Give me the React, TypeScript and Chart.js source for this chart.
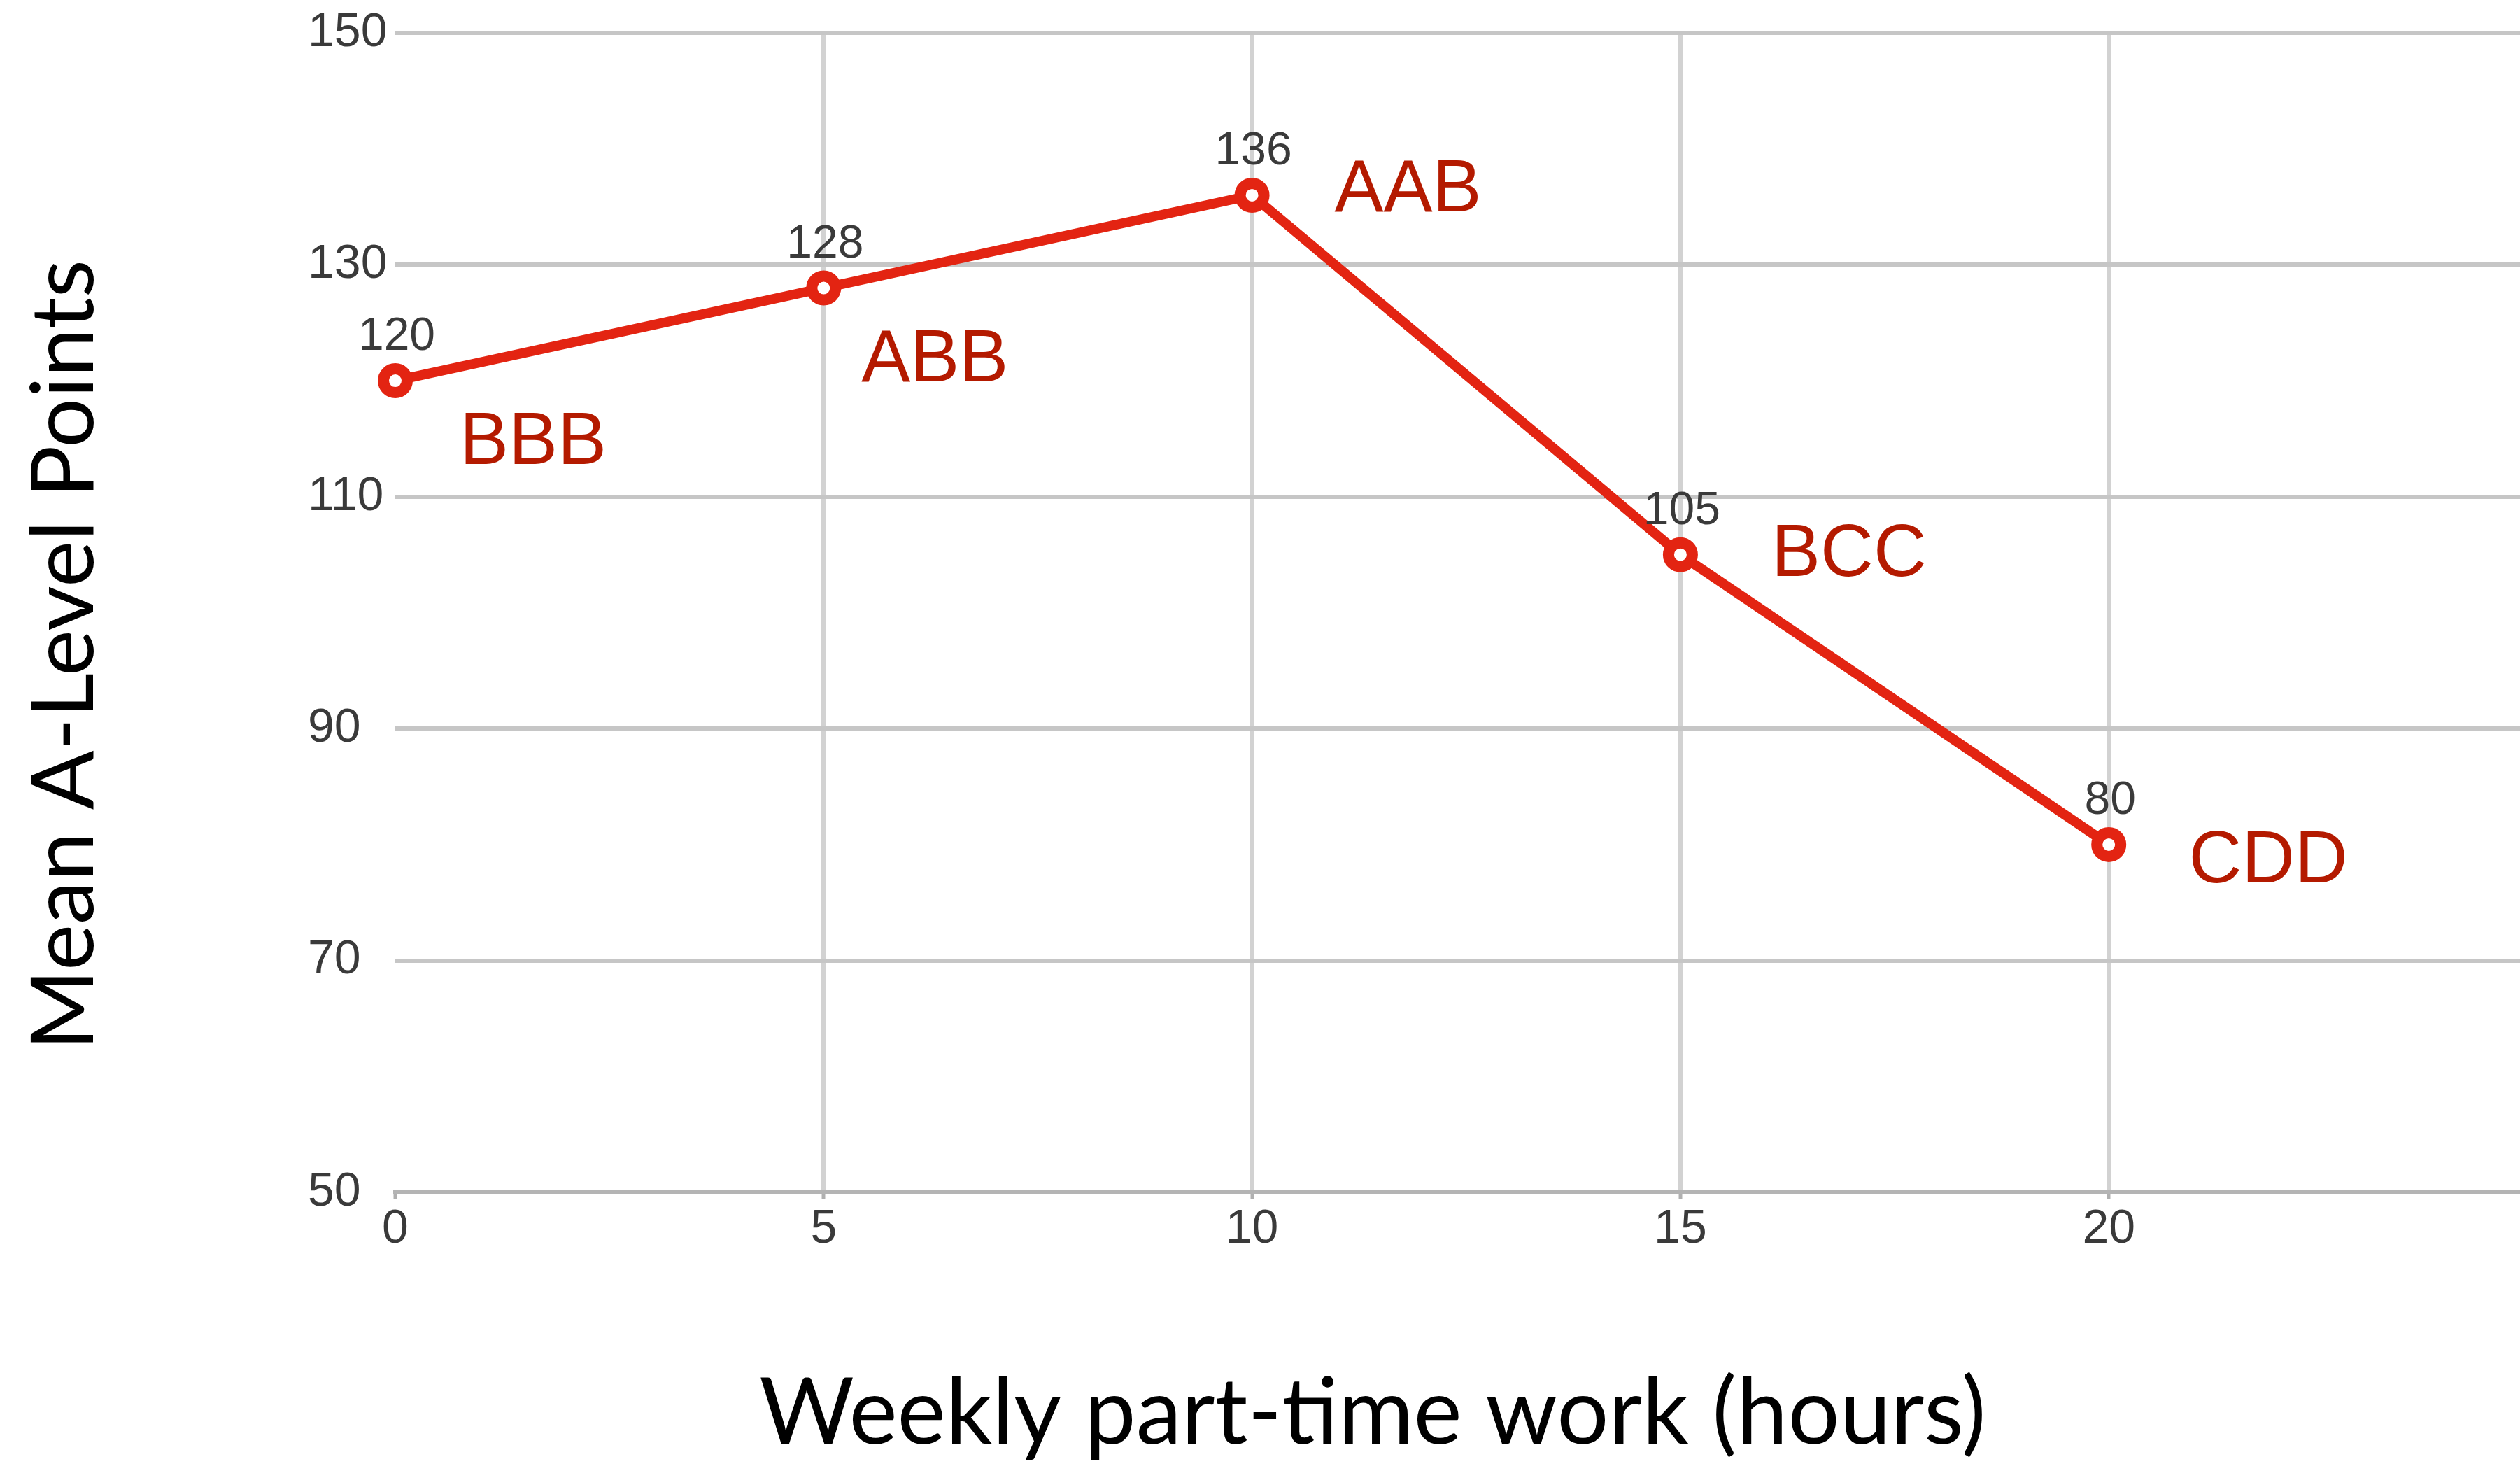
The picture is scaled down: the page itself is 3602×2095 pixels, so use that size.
import React, { useEffect, useRef } from 'react';
import { Chart, registerables } from 'chart.js';

Chart.register(...registerables);

// ---- data ----
const hours = [0, 5, 10, 15, 20];
const meanPoints = [120, 128, 136, 105, 80];
const grades = ['BBB', 'ABB', 'AAB', 'BCC', 'CDD'];
const xTicks = [0, 5, 10, 15, 20];
const yTicks = [50, 70, 90, 110, 130, 150];
const xTitle = 'Weekly part-time work (hours)';
const yTitle = 'Mean A-Level Points';

// placement of the grade annotations relative to each point (px, baseline)
const gradeOffsets: [number, number][] = [
  [197, 119],
  [159, 133],
  [223, 23],
  [241, 30],
  [228, 54],
];

const SANS = '"Liberation Sans", Arial, sans-serif';
const TITLE_FONT = 'Lato, "Open Sans", sans-serif';
const RED = '#e32412';
const DARK_RED = '#b41a00';

// let the plot area run to the right edge of the canvas (the original is cropped there)
const stretchPlugin = {
  id: 'stretch',
  afterLayout(chart: any) {
    const ca = chart.chartArea;
    const right = chart.width;
    ca.right = right;
    ca.width = right - ca.left;
    const xs = chart.scales.x;
    xs.right = right;
    xs.width = right - xs.left;
    xs.configure();
  },
};

const annotatePlugin = {
  id: 'annotate',
  afterDatasetsDraw(chart: any) {
    const ctx = chart.ctx as CanvasRenderingContext2D;
    const meta = chart.getDatasetMeta(0);
    ctx.save();
    meta.data.forEach((el: any, i: number) => {
      const x = el.x;
      const y = el.y;
      ctx.textAlign = 'center';
      ctx.textBaseline = 'alphabetic';
      ctx.font = `66px ${SANS}`;
      ctx.fillStyle = '#3a3a3a';
      ctx.fillText(String(meanPoints[i]), x + 2, y - 44);
      ctx.font = `105px ${SANS}`;
      ctx.fillStyle = DARK_RED;
      const off = gradeOffsets[i];
      ctx.fillText(grades[i], x + off[0], y + off[1]);
    });
    // axis titles
    ctx.fillStyle = '#000';
    ctx.textAlign = 'center';
    ctx.textBaseline = 'alphabetic';
    ctx.font = `131px ${TITLE_FONT}`;
    ctx.fillText(xTitle, 1962, 2063);
    ctx.font = `125px ${TITLE_FONT}`;
    ctx.translate(133, 936);
    ctx.rotate(-Math.PI / 2);
    ctx.fillText(yTitle, 0, 0);
    ctx.restore();
  },
};

export default function App() {
  const ref = useRef<HTMLCanvasElement | null>(null);

  useEffect(() => {
    if (!ref.current) return;
    const chart = new Chart(ref.current, {
      type: 'line',
      data: {
        datasets: [
          {
            data: hours.map((h, i) => ({ x: h, y: meanPoints[i] })),
            borderColor: RED,
            borderWidth: 14,
            pointRadius: 17,
            pointBorderWidth: 16,
            pointBackgroundColor: '#ffffff',
            pointBorderColor: RED,
            pointHoverRadius: 17,
            tension: 0,
            clip: false as any,
          } as any,
        ],
      },
      options: {
        animation: false,
        responsive: true,
        maintainAspectRatio: false,
        layout: { padding: { left: 440, top: 47, right: 0, bottom: 291 } },
        plugins: {
          legend: { display: false },
          tooltip: { enabled: false },
          title: { display: false },
        },
        scales: {
          x: {
            type: 'linear',
            min: 0,
            max: 24.8,
            afterBuildTicks: (s: any) => {
              s.ticks = xTicks.map((v) => ({ value: v }));
            },
            afterFit: (s: any) => {
              s.height = 100;
              s.paddingLeft = 0;
              s.paddingRight = 0;
            },
            grid: {
              color: (c: any) => (c.tick && c.tick.value === 0 ? 'rgba(0,0,0,0)' : '#d2d2d2'),
              lineWidth: 6,
              drawTicks: true,
              tickLength: 10,
              tickColor: '#b0b0b0',
              tickWidth: 5,
            },
            border: { display: true, color: '#b4b4b4', width: 6 },
            ticks: {
              font: { family: SANS, size: 68 },
              color: '#3a3a3a',
              padding: 2,
              maxRotation: 0,
              autoSkip: false,
            },
          },
          y: {
            type: 'linear',
            min: 50,
            max: 150,
            afterBuildTicks: (s: any) => {
              s.ticks = yTicks.map((v) => ({ value: v }));
            },
            afterFit: (s: any) => {
              s.width = 125;
              s.paddingTop = 0;
              s.paddingBottom = 0;
            },
            grid: { color: '#c6c6c6', lineWidth: 6, drawTicks: false },
            border: { display: false },
            ticks: {
              crossAlign: 'far',
              font: { family: SANS, size: 68 },
              color: '#3a3a3a',
              padding: 0,
              autoSkip: false,
            },
          },
        },
      } as any,
      plugins: [stretchPlugin, annotatePlugin],
    });
    return () => chart.destroy();
  }, []);

  return (
    <div
      style={{
        position: 'absolute',
        left: 0,
        top: 0,
        width: 3602,
        height: 2095,
        background: '#fff',
      }}
    >
      <canvas ref={ref} />
    </div>
  );
}
